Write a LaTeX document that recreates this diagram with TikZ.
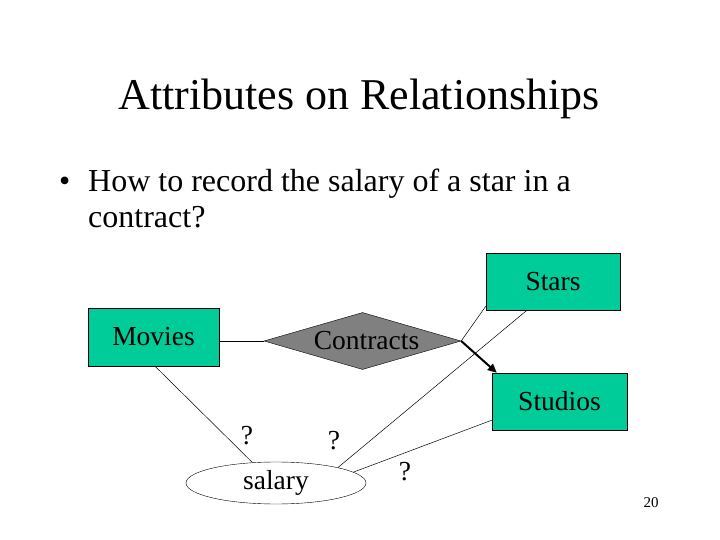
\documentclass[tikz,border=0pt]{standalone}
\usepackage{fontspec}
\setmainfont{Liberation Serif}
\usetikzlibrary{shapes.geometric,arrows.meta,calc}
\definecolor{entgreen}{RGB}{0,204,153}
\definecolor{relgray}{RGB}{128,128,128}
\begin{document}
\begin{tikzpicture}[x=1pt,y=-1pt,
  lbl/.style={font=\fontsize{27.5}{32}\selectfont},
  entity/.style={lbl,draw=black,fill=entgreen,rectangle,inner sep=0pt},
  rel/.style={lbl,draw=black,fill=relgray,diamond,aspect=3.46,inner sep=0pt},
  attr/.style={lbl,draw=black,fill=white,ellipse,inner sep=0pt},
  conn/.style={draw=black,line width=0.5pt},
  qlabel/.style={lbl,inner sep=0pt},
  body/.style={anchor=base west,font=\fontsize{32}{38}\selectfont,inner sep=0pt}]
\fill[white] (0,0) rectangle (720,540);
\useasboundingbox (0,0) rectangle (720,540);
% title
\node[anchor=base,font=\fontsize{44}{50}\selectfont,inner sep=0pt] (title) at (359,110) {Attributes on Relationships};
% bullet
\node[body] (bullet) at (59,192) {\textbullet};
\node[body] (line1) at (88,192) {How to record the salary of a star in a};
\node[body] (line2) at (88,228) {contract?};
% diagram
\node[entity,minimum width=134pt,minimum height=57pt] (Stars) at (553,281.5) {Stars};
\node[entity,minimum width=135pt,minimum height=57pt] (Studios) at (559.5,401.5) {Studios};
\node[entity,minimum width=131pt,minimum height=58pt] (Movies) at (153.5,337) {\raisebox{-1pt}{Movies}};
\node[rel,minimum width=197pt,minimum height=57pt] (Contracts) at (362.5,341) {\hspace*{8pt}\raisebox{-1pt}{Contracts}};
\node[attr,minimum width=180pt,minimum height=42pt] (salary) at (276,483) {\raisebox{-3pt}{salary}};
% connectors
\draw[conn] (Contracts.west) -- (Contracts.west -| Movies.east);
\draw[conn] (Contracts.east) -- ($(Stars.south west)+(0,-4)$);
\draw[black,line width=2pt,-{Triangle[length=9pt,width=8pt]}] (Contracts.east) -- ($(Studios.north west)+(5,0)$);
\draw[conn] ($(Stars.south)+(-26,0)$) -- (salary.14.5);
\draw[conn] ($(Studios.south west)+(0,-10)$) -- (salary.8);
\draw[conn] ($(Movies.south)+(1.5,0)$) -- (salary.139);
% question marks
\node[qlabel] (q1) at (247,436) {?};
\node[qlabel] (q2) at (334,441) {?};
\node[qlabel] (q3) at (405,472) {?};
% page number
\node[font=\fontsize{15}{18}\selectfont,inner sep=0pt] (page) at (651,503) {20};
\end{tikzpicture}
\end{document}
